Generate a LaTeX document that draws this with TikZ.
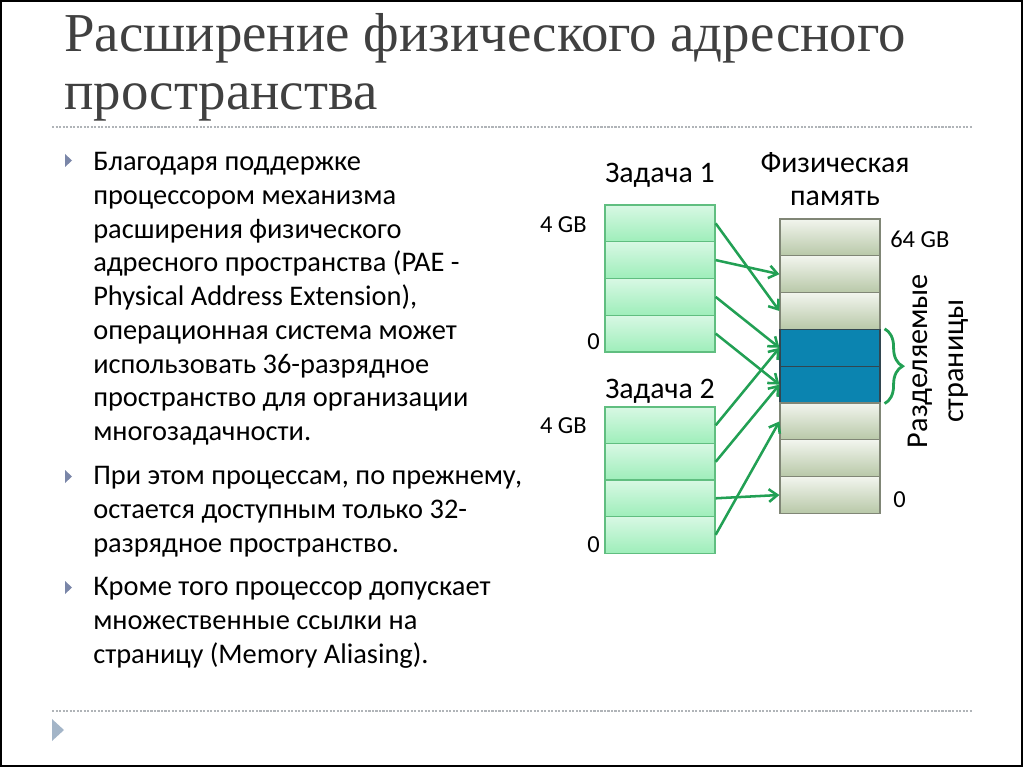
\documentclass[tikz,border=0pt]{standalone}
\usepackage{fontspec}
\setmainfont{Carlito}
\newfontfamily\titlefont{Liberation Serif}
\usetikzlibrary{arrows.meta,decorations.pathreplacing}

\definecolor{titlegray}{RGB}{64,64,64}
\definecolor{taskline}{RGB}{96,190,128}
\definecolor{tasktop}{RGB}{216,248,228}
\definecolor{taskbot}{RGB}{158,238,186}
\definecolor{physline}{RGB}{128,134,118}
\definecolor{phystop}{RGB}{242,245,238}
\definecolor{physbot}{RGB}{184,200,168}
\definecolor{sharedblue}{RGB}{11,132,176}
\definecolor{sharedline}{RGB}{50,70,80}
\definecolor{mapgreen}{RGB}{34,160,84}
\definecolor{bulletblue}{RGB}{122,134,168}
\definecolor{cornerblue}{RGB}{163,181,200}
\definecolor{rulegray}{RGB}{176,180,184}

\tikzset{
  taskbox/.style={draw=taskline,line width=0.9pt,top color=tasktop,bottom color=taskbot,
    minimum width=2.75cm,minimum height=0.918cm,inner sep=0pt},
  physbox/.style={draw=physline,line width=0.8pt,top color=phystop,bottom color=physbot,
    minimum width=2.5cm,minimum height=0.92cm,inner sep=0pt},
  sharedbox/.style={draw=sharedline,line width=0.8pt,fill=sharedblue,
    minimum width=2.5cm,minimum height=0.92cm,inner sep=0pt},
  maparrow/.style={draw=mapgreen,line width=1.8pt,-{Straight Barb[length=6pt,width=9pt]}},
  bodytext/.style={font=\fontsize{20.2}{24}\selectfont,align=left,inner sep=0pt,anchor=base west},
  headtext/.style={font=\fontsize{21.2}{23.4}\selectfont,inner sep=0pt},
  sizetext/.style={font=\fontsize{17.4}{20}\selectfont,inner sep=0pt},
  sepline/.style={rulegray,line width=0.8pt,dash pattern=on 1.5pt off 1pt}
}

\begin{document}
\begin{tikzpicture}[x=0.025cm,y=-0.025cm]
  \useasboundingbox (0,0) rectangle (1024,768);
  \draw[line width=1.5pt] (1,1) rectangle (1022,766);

  % title (base = last line)
  \node[font=\titlefont\fontsize{39}{41.5}\selectfont,text=titlegray,align=left,inner sep=0pt,
    anchor=base west] (title) at (64,110) {Расширение физического адресного\\пространства};
  \draw[sepline] (52,127) -- (972,127);
  \draw[sepline] (52,711) -- (972,711);
  \fill[cornerblue] (52,719) -- (64,730) -- (52,741) -- cycle;

  % bullets
  \fill[bulletblue] (65,154) -- (72,160.5) -- (65,167) -- cycle;
  \fill[bulletblue] (65,470) -- (72,476.5) -- (65,483) -- cycle;
  \fill[bulletblue] (65,581) -- (72,587.5) -- (65,594) -- cycle;
  \node[bodytext] (pae) at (93,440.5) {Благодаря поддержке\\процессором механизма\\расширения физического\\адресного пространства (PAE -\\Physical Address Extension),\\операционная система может\\использовать 36-разрядное\\пространство для организации\\многозадачности.};
  \node[bodytext] (bits) at (93,552) {При этом процессам, по прежнему,\\остается доступным только 32-\\разрядное пространство.};
  \node[bodytext] (alias) at (93,663) {Кроме того процессор допускает\\множественные ссылки на\\страницу (Memory Aliasing).};

  % task 1
  \node[headtext,anchor=base] (taskone) at (660,183) {Задача 1};
  \node[taskbox] (t1a) at (660,223.4) {};
  \node[taskbox] (t1b) at (660,260.1) {};
  \node[taskbox] (t1c) at (660,296.9) {};
  \node[taskbox] (t1d) at (660,333.6) {};
  \node[sizetext,anchor=base east] (t1top) at (587,232) {4 GB};
  \node[sizetext,anchor=base east] (t1low) at (600,349) {0};

  % task 2
  \node[headtext,anchor=base] (tasktwo) at (660,398) {Задача 2};
  \node[taskbox] (t2a) at (660,425.3) {};
  \node[taskbox] (t2b) at (660,461.8) {};
  \node[taskbox] (t2c) at (660,498.3) {};
  \node[taskbox] (t2d) at (660,534.8) {};
  \node[sizetext,anchor=base east] (t2top) at (587,433) {4 GB};
  \node[sizetext,anchor=base east] (t2low) at (600,552) {0};

  % physical memory
  \node[headtext,anchor=base,align=center] (phys) at (835,205) {Физическая\\память};
  \node[physbox] (p1) at (830,237.4) {};
  \node[physbox] (p2) at (830,274.2) {};
  \node[physbox] (p3) at (830,311.0) {};
  \node[sharedbox] (p4) at (830,347.8) {};
  \node[sharedbox] (p5) at (830,384.6) {};
  \node[physbox] (p6) at (830,421.4) {};
  \node[physbox] (p7) at (830,458.2) {};
  \node[physbox] (p8) at (830,495.0) {};
  \node[sizetext,anchor=base west] (ptop) at (890,247) {64 GB};
  \node[sizetext,anchor=base west] (plow) at (893,507) {0};

  % mappings
  \draw[maparrow] (t1a.east) -- (p3.west);
  \draw[maparrow] (t1b.east) -- (p2.west);
  \draw[maparrow] (t1c.east) -- (p4.west);
  \draw[maparrow] (t1d.east) -- (p5.west);
  \draw[maparrow] (t2a.east) -- (p4.west);
  \draw[maparrow] (t2b.east) -- (p5.west);
  \draw[maparrow] (t2c.east) -- (p8.west);
  \draw[maparrow] (t2d.east) -- (p6.west);

  % shared pages
  \draw[mapgreen,line width=2pt,decorate,decoration={brace,amplitude=0.45cm}]
    ([xshift=0.1cm]p4.north east) -- ([xshift=0.1cm]p5.south east);
  \node[headtext,font=\fontsize{21.5}{25.5}\selectfont,rotate=90,align=center] (shared) at (938,361) {Разделяемые\\страницы};
\end{tikzpicture}
\end{document}
